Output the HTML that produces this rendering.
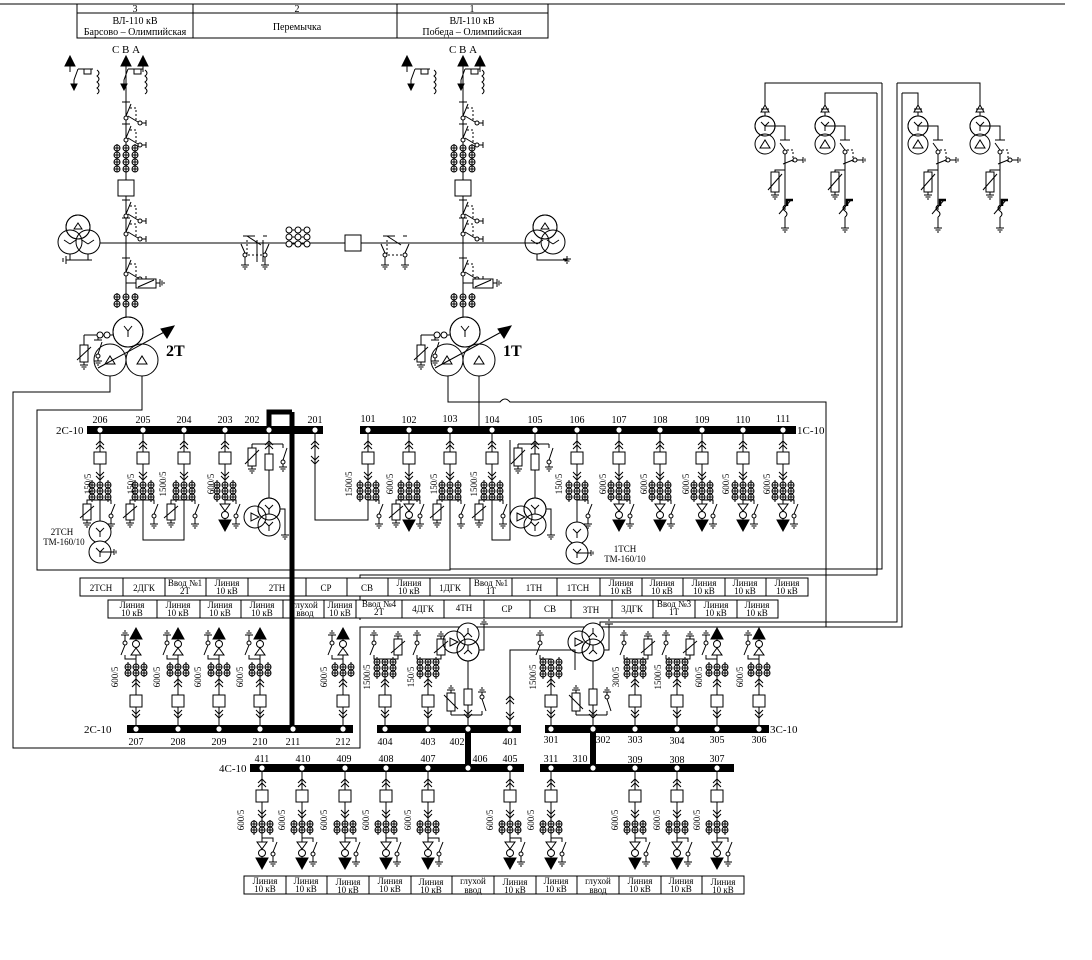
<!DOCTYPE html>
<html><head><meta charset="utf-8">
<style>
html,body{margin:0;padding:0;background:#fff;}
svg{display:block;font-family:"Liberation Serif",serif;}
text{fill:#000;stroke:none;}
.t9{font-size:9px;}
.t10{font-size:10px;}
.t11{font-size:11px;}
</style></head>
<body>
<svg width="1092" height="960" viewBox="0 0 1092 960" xmlns="http://www.w3.org/2000/svg" xmlns:xlink="http://www.w3.org/1999/xlink">
<defs>
<g id="gd" fill="none" stroke="#000"><path d="M0 0V3M-4 3H4M-2.5 5H2.5M-1 7H1"/></g>
<g id="fb" fill="none" stroke="#000">
<path d="M0 0V66M-4 11L0 7L4 11M-4 15L0 11L4 15M-4 38L0 42L4 38M-4 42L0 46L4 42"/>
<rect x="-6" y="18" width="12" height="12" fill="#fff"/>
<path d="M0 66H11V70M15 70L11 80M11 84V87"/>
<circle cx="11" cy="82" r="2" fill="#fff"/>
<use href="#gd" xlink:href="#gd" transform="translate(11,87)"/>
</g>
<g id="ct3" fill="none" stroke="#000">
<path d="M-8 46V68M8 46V68M-11 51H-5M-3 51H3M5 51H11M-11 57H-5M-3 57H3M5 57H11M-11 63H-5M-3 63H3M5 63H11"/>
<circle cx="-8" cy="51" r="3"/><circle cx="0" cy="51" r="3"/><circle cx="8" cy="51" r="3"/>
<circle cx="-8" cy="57" r="3"/><circle cx="0" cy="57" r="3"/><circle cx="8" cy="57" r="3"/>
<circle cx="-8" cy="63" r="3"/><circle cx="0" cy="63" r="3"/><circle cx="8" cy="63" r="3"/>
</g>
<g id="ct2" fill="none" stroke="#000">
<path d="M-8 48V63M8 48V63M-11 52H-5M-3 52H3M5 52H11M-11 58H-5M-3 58H3M5 58H11"/>
<circle cx="-8" cy="52" r="3"/><circle cx="0" cy="52" r="3"/><circle cx="8" cy="52" r="3"/>
<circle cx="-8" cy="58" r="3"/><circle cx="0" cy="58" r="3"/><circle cx="8" cy="58" r="3"/>
</g>
<g id="ft" fill="none" stroke="#000">
<path d="M0 66V86"/>
<path d="M-5 70L5 70L0 77Z" fill="#fff"/>
<circle cx="0" cy="81" r="3.5" fill="#fff"/>
<path d="M-6 86L6 86L0 97Z" fill="#000"/>
</g>
<g id="fa" fill="none" stroke="#000">
<path d="M0 66H-13V70"/>
<rect x="-17" y="70" width="8" height="16" fill="#fff"/>
<path d="M-20 84L-6 72"/>
<use href="#gd" xlink:href="#gd" transform="translate(-13,86)"/>
</g>
<g id="F"><use href="#fb" xlink:href="#fb"/><use href="#ct3" xlink:href="#ct3"/><use href="#ft" xlink:href="#ft"/></g>
<g id="FA"><use href="#fb" xlink:href="#fb"/><use href="#ct3" xlink:href="#ct3"/><use href="#fa" xlink:href="#fa"/></g>
<g id="FN"><use href="#fb" xlink:href="#fb"/><use href="#ct3" xlink:href="#ct3"/></g>
<g id="FTA"><use href="#F" xlink:href="#F"/><use href="#fa" xlink:href="#fa"/></g>
<g id="F2"><use href="#fb" xlink:href="#fb"/><use href="#ct2" xlink:href="#ct2"/><use href="#ft" xlink:href="#ft"/></g>
<g id="FA2"><use href="#fb" xlink:href="#fb"/><use href="#ct3" xlink:href="#ct3"/><use href="#fa" xlink:href="#fa"/></g>
<g id="FN2"><use href="#fb" xlink:href="#fb"/><use href="#ct3" xlink:href="#ct3"/></g>
<g id="TN" fill="none" stroke="#000">
<path d="M-4 11L0 7L4 11M-4 15L0 11L4 15M0 0V20M-17 10H14M-17 10V14M14 10V14M18 14L14 26M0 36V64"/>
<rect x="-21" y="14" width="8" height="18" fill="#fff"/>
<path d="M-24 30L-10 16"/>
<use href="#gd" xlink:href="#gd" transform="translate(-17,32)"/>
<circle cx="14" cy="28" r="2" fill="#fff"/>
<use href="#gd" xlink:href="#gd" transform="translate(14,30)"/>
<rect x="-4" y="20" width="8" height="16" fill="#fff"/>
<circle cx="0" cy="75" r="11" fill="#fff"/><circle cx="0" cy="91" r="11" fill="#fff"/><circle cx="-14" cy="83" r="11"/><circle cx="0" cy="75" r="11"/>
<path d="M-4 71L0 75L4 71M0 75V80M-4 88L0 92L4 88M0 92V97M-18 79L-10 83L-18 87Z M11 75H16V98"/>
<use href="#gd" xlink:href="#gd" transform="translate(16,98)"/>
</g>
<g id="hb" fill="none" stroke="#000">
<path d="M-4 0H4M5 2L0 14M2 14L12 20M16 21H20M20 18V24"/>
<circle cx="0" cy="16" r="2" fill="#fff"/>
<circle cx="14" cy="21" r="2" fill="#fff"/>
<path d="M4 6H10V18" stroke-dasharray="2,2"/>
</g>
<g id="hv" fill="none" stroke="#000">
<path d="M0 58V318"/>
<path d="M-5 66L0 56L5 66Z M-61 66L-56 56L-51 66Z M12 66L17 56L22 66Z" fill="#000"/>
<path d="M-56 66V72M17 66V72"/>
<rect x="-42" y="69" width="7" height="5"/>
<path d="M-48 69H-33M-48 69L-52 80V86M-29 70q4 3 0 6q4 3 0 6q4 3 0 6q4 3 0 6"/>
<path d="M-55 84L-52 90L-49 84Z" fill="#000"/>
<rect x="8" y="69" width="7" height="5"/>
<path d="M2 69H17M2 69L-2 80V86M19 70q4 3 0 6q4 3 0 6q4 3 0 6q4 3 0 6"/>
<path d="M-5 84L-2 90L1 84Z" fill="#000"/>
<use href="#hb" xlink:href="#hb" transform="translate(0,102)"/>
<use href="#hb" xlink:href="#hb" transform="translate(0,124)"/>
<path d="M-9 144V172M9 144V172M-12 148H-6M-3 148H3M6 148H12M-12 155H-6M-3 155H3M6 155H12M-12 162H-6M-3 162H3M6 162H12M-12 169H-6M-3 169H3M6 169H12"/>
<circle cx="-9" cy="148" r="3"/><circle cx="0" cy="148" r="3"/><circle cx="9" cy="148" r="3"/>
<circle cx="-9" cy="155" r="3"/><circle cx="0" cy="155" r="3"/><circle cx="9" cy="155" r="3"/>
<circle cx="-9" cy="162" r="3"/><circle cx="0" cy="162" r="3"/><circle cx="9" cy="162" r="3"/>
<circle cx="-9" cy="169" r="3"/><circle cx="0" cy="169" r="3"/><circle cx="9" cy="169" r="3"/>
<rect x="-8" y="180" width="16" height="16" fill="#fff"/>
<use href="#hb" xlink:href="#hb" transform="translate(0,200)"/>
<use href="#hb" xlink:href="#hb" transform="translate(0,218)"/>
<use href="#hb" xlink:href="#hb" transform="translate(0,258)"/>
<rect x="10" y="279" width="20" height="9" fill="#fff"/>
<path d="M12 287L28 280M0 283H10M30 283H34M34 279V287M36 280.5V285.5M38 282V284"/>
<path d="M-9 293V308M9 293V308M-12 297H-6M-3 297H3M6 297H12M-12 304H-6M-3 304H3M6 304H12"/>
<circle cx="-9" cy="297" r="3"/><circle cx="0" cy="297" r="3"/><circle cx="9" cy="297" r="3"/>
<circle cx="-9" cy="304" r="3"/><circle cx="0" cy="304" r="3"/><circle cx="9" cy="304" r="3"/>
<circle cx="2" cy="332" r="15" fill="#fff"/><circle cx="-16" cy="360" r="16" fill="#fff"/><circle cx="16" cy="360" r="16" fill="#fff"/><circle cx="2" cy="332" r="15"/>
<path d="M-2 326L2 331L6 326M2 331V337M-21 364L-16 356L-11 364ZM11 364L16 356L21 364Z"/>
<path d="M-28 368L42 330"/>
<path d="M48 326L35 329L41 338Z" fill="#000"/>
<path d="M-42 335H-13M-42 335V345M-28 335V340M-32 340H-24M-24 342L-28 354"/>
<circle cx="-26" cy="335" r="3" fill="#fff"/><circle cx="-19" cy="335" r="3" fill="#fff"/>
<rect x="-46" y="345" width="8" height="17" fill="#fff"/>
<path d="M-49 360L-35 347"/>
<use href="#gd" xlink:href="#gd" transform="translate(-42,362)"/>
<circle cx="-28" cy="356" r="2" fill="#fff"/>
<use href="#gd" xlink:href="#gd" transform="translate(-28,358)"/>
</g>
<g id="rt" fill="none" stroke="#000">
<circle cx="0" cy="126" r="10" fill="#fff"/><circle cx="0" cy="144" r="10" fill="#fff"/><circle cx="0" cy="126" r="10"/>
<path d="M-4 122L0 126L4 122M0 126V131M-5 148L0 140L5 148Z"/>
<path d="M-4 112L0 105L4 112Z" fill="#fff"/>
<path d="M-4 109H4M0 112V116M0 126H20V140M15 140H25M20 150L15 143M20 154V210M18 164L28 160M32 160H38M20 170H10V172M14 214L26 200M20 205q-4 3 0 6q4 3 0 6M20 217V225"/>
<path d="M22 206V200H28" stroke-width="2.5"/>
<path d="M22 150H28V162" stroke-dasharray="2,2"/>
<circle cx="20" cy="152" r="2" fill="#fff"/>
<circle cx="30" cy="160" r="2" fill="#fff"/>
<path d="M38 157V163M40 158.5V161.5"/>
<rect x="6" y="172" width="8" height="20" fill="#fff"/>
<path d="M3 190L17 174"/>
<use href="#gd" xlink:href="#gd" transform="translate(10,192)"/>
<use href="#gd" xlink:href="#gd" transform="translate(20,225)"/>
</g>
</defs>
<rect width="1092" height="960" fill="#fff"/>

<!-- header table -->
<g stroke="#000" fill="none">
<line x1="0" y1="4" x2="1065" y2="4"/>
<rect x="77" y="4" width="471" height="34"/>
<line x1="77" y1="13" x2="548" y2="13"/>
<line x1="193" y1="4" x2="193" y2="38"/>
<line x1="397" y1="4" x2="397" y2="38"/>
</g>
<g class="t10" text-anchor="middle">
<text x="135" y="12">3</text><text x="297" y="12">2</text><text x="472" y="12">1</text>
<text x="135" y="24">ВЛ-110 кВ</text><text x="135" y="35">Барсово – Олимпийская</text>
<text x="297" y="30">Перемычка</text>
<text x="472" y="24">ВЛ-110 кВ</text><text x="472" y="35">Победа – Олимпийская</text>
<text x="126" y="53" font-size="11">С В А</text>
<text x="463" y="53" font-size="11">С В А</text>
</g>

<!-- HV sections -->
<use href="#hv" xlink:href="#hv" transform="translate(126,0)"/>
<use href="#hv" xlink:href="#hv" transform="translate(463,0)"/>
<g fill="none" stroke="#000">
<path d="M100 243H540"/>
<circle cx="78" cy="227" r="12" fill="#fff"/><circle cx="70" cy="242" r="12"/><circle cx="88" cy="242" r="12"/><circle cx="78" cy="227" r="12"/>
<path d="M74 229L78 223L82 229ZM64 240L70 244M76 240L70 244M82 240L88 244M94 240L88 244M70 254V260M88 254V260M66 260H92M66 256V264M63 258V262"/>
<circle cx="545" cy="227" r="12" fill="#fff"/><circle cx="537" cy="242" r="12"/><circle cx="553" cy="242" r="12"/><circle cx="545" cy="227" r="12"/>
<path d="M541 229L545 223L549 229ZM531 240L537 244M543 240L537 244M547 240L553 244M559 240L553 244M537 254V260H567V256"/>
<use href="#gd" xlink:href="#gd" transform="translate(567,256)"/>
<path d="M243 236H255M247 236L261 245M263 236H267M257 240V262M263 240V262" />
<path d="M247 240V255H263" stroke-dasharray="2,2"/>
<circle cx="245" cy="255" r="2" fill="#fff"/><circle cx="265" cy="255" r="2" fill="#fff"/>
<path d="M241 244L245 253M269 244L265 253M245 257V262M265 257V262"/>
<use href="#gd" xlink:href="#gd" transform="translate(245,262)"/>
<use href="#gd" xlink:href="#gd" transform="translate(265,262)"/>
<path d="M383 236H395M387 236L401 245M403 236H407"/>
<path d="M387 240V255H403" stroke-dasharray="2,2"/>
<circle cx="385" cy="255" r="2" fill="#fff"/><circle cx="405" cy="255" r="2" fill="#fff"/>
<path d="M381 244L385 253M409 244L405 253M385 257V262M405 257V262"/>
<use href="#gd" xlink:href="#gd" transform="translate(385,262)"/>
<use href="#gd" xlink:href="#gd" transform="translate(405,262)"/>
<path d="M286 230H310M286 237H310M286 244H310"/>
<circle cx="289" cy="230" r="3" fill="#fff"/><circle cx="298" cy="230" r="3" fill="#fff"/><circle cx="307" cy="230" r="3" fill="#fff"/>
<circle cx="289" cy="237" r="3" fill="#fff"/><circle cx="298" cy="237" r="3" fill="#fff"/><circle cx="307" cy="237" r="3" fill="#fff"/>
<circle cx="289" cy="244" r="3" fill="#fff"/><circle cx="298" cy="244" r="3" fill="#fff"/><circle cx="307" cy="244" r="3" fill="#fff"/>
<rect x="345" y="235" width="16" height="16" fill="#fff"/>
</g>
<text x="166" y="356" font-size="16" font-weight="bold">2Т</text>
<text x="503" y="356" font-size="16" font-weight="bold">1Т</text>

<!-- connection wires -->
<g fill="none" stroke="#000">
<path d="M110 376V392H13V748H360V627H826V402H510q-5 -6 -10 0H448V376"/>
<path d="M142 376V410H37V570H450V500"/>
<path d="M479 376V426"/>
<path d="M143 500V540H184V500"/>
<path d="M492 500V540H510V440"/>
<path d="M882 83V569H450M877 93V575H360V620M897 83V622H600V640M902 93V627H826"/>
<path d="M765 105V83H882M825 105V93H877M918 105V93H902M980 105V83H897"/>
<path d="M315 434V520H368V500M315 441L311 445M315 441L319 445M311 449L315 445L319 449M311 456L315 460L319 456M311 460L315 464L319 460"/>
<path d="M510 725V650H575V670M506 716L510 720L514 716M506 712L510 716L514 712M506 700L510 696L514 700M506 704L510 700L514 704"/>
</g>
<use href="#rt" xlink:href="#rt" transform="translate(765,0)"/>
<use href="#rt" xlink:href="#rt" transform="translate(825,0)"/>
<use href="#rt" xlink:href="#rt" transform="translate(918,0)"/>
<use href="#rt" xlink:href="#rt" transform="translate(980,0)"/>

<!-- buses -->
<g fill="#000">
<rect x="87" y="426" width="236" height="8"/><rect x="360" y="426" width="436" height="8"/>
<rect x="127" y="725" width="226" height="8"/><rect x="377" y="725" width="144" height="8"/><rect x="545" y="725" width="224" height="8"/>
<rect x="250" y="764" width="274" height="8"/><rect x="540" y="764" width="194" height="8"/>
</g>
<g stroke="#000" fill="none">
<path d="M468 733V764M593 733V764" stroke-width="6"/>
<path d="M292 729V412M269 430V412H292" stroke-width="5"/>
</g>
<g fill="#fff">
<circle cx="100" cy="430" r="2.6"/><circle cx="143" cy="430" r="2.6"/><circle cx="184" cy="430" r="2.6"/><circle cx="225" cy="430" r="2.6"/><circle cx="269" cy="430" r="2.6"/><circle cx="315" cy="430" r="2.6"/>
<circle cx="368" cy="430" r="2.6"/><circle cx="409" cy="430" r="2.6"/><circle cx="450" cy="430" r="2.6"/><circle cx="492" cy="430" r="2.6"/><circle cx="535" cy="430" r="2.6"/><circle cx="577" cy="430" r="2.6"/><circle cx="619" cy="430" r="2.6"/><circle cx="660" cy="430" r="2.6"/><circle cx="702" cy="430" r="2.6"/><circle cx="743" cy="430" r="2.6"/><circle cx="783" cy="430" r="2.6"/>
<circle cx="136" cy="729" r="2.6"/><circle cx="178" cy="729" r="2.6"/><circle cx="219" cy="729" r="2.6"/><circle cx="260" cy="729" r="2.6"/><circle cx="293" cy="729" r="2.6"/><circle cx="343" cy="729" r="2.6"/>
<circle cx="385" cy="729" r="2.6"/><circle cx="428" cy="729" r="2.6"/><circle cx="468" cy="729" r="2.6"/><circle cx="510" cy="729" r="2.6"/>
<circle cx="551" cy="729" r="2.6"/><circle cx="593" cy="729" r="2.6"/><circle cx="635" cy="729" r="2.6"/><circle cx="677" cy="729" r="2.6"/><circle cx="717" cy="729" r="2.6"/><circle cx="759" cy="729" r="2.6"/>
<circle cx="262" cy="768" r="2.6"/><circle cx="302" cy="768" r="2.6"/><circle cx="345" cy="768" r="2.6"/><circle cx="386" cy="768" r="2.6"/><circle cx="428" cy="768" r="2.6"/><circle cx="468" cy="768" r="2.6"/><circle cx="510" cy="768" r="2.6"/>
<circle cx="551" cy="768" r="2.6"/><circle cx="593" cy="768" r="2.6"/><circle cx="635" cy="768" r="2.6"/><circle cx="677" cy="768" r="2.6"/><circle cx="717" cy="768" r="2.6"/>
</g>

<!-- upper feeders -->
<use href="#FA" xlink:href="#FA" transform="translate(100,434)"/>
<use href="#FA" xlink:href="#FA" transform="translate(143,434)"/>
<use href="#FA" xlink:href="#FA" transform="translate(184,434)"/>
<use href="#F" xlink:href="#F" transform="translate(225,434)"/>
<use href="#TN" xlink:href="#TN" transform="translate(269,434)"/>
<use href="#FN" xlink:href="#FN" transform="translate(368,434)"/>
<use href="#FTA" xlink:href="#FTA" transform="translate(409,434)"/>
<use href="#FA" xlink:href="#FA" transform="translate(450,434)"/>
<use href="#FA" xlink:href="#FA" transform="translate(492,434)"/>
<use href="#TN" xlink:href="#TN" transform="translate(535,434)"/>
<use href="#FN" xlink:href="#FN" transform="translate(577,434)"/>
<use href="#F" xlink:href="#F" transform="translate(619,434)"/>
<use href="#F" xlink:href="#F" transform="translate(660,434)"/>
<use href="#F" xlink:href="#F" transform="translate(702,434)"/>
<use href="#F" xlink:href="#F" transform="translate(743,434)"/>
<use href="#F" xlink:href="#F" transform="translate(783,434)"/>
<g fill="none" stroke="#000">
<path d="M100 500V521"/>
<circle cx="100" cy="532" r="11" fill="#fff"/><circle cx="100" cy="552" r="11" fill="#fff"/>
<path d="M96 528L100 532L104 528M100 532V537M96 548L100 552L104 548M100 552V557M100 552H114"/>
<path d="M114 549V555M116 550.5V553.5"/>
<path d="M577 500V522"/>
<circle cx="577" cy="533" r="11" fill="#fff"/><circle cx="577" cy="553" r="11" fill="#fff"/>
<path d="M573 529L577 533L581 529M577 533V538M573 549L577 553L581 549M577 553V558M577 553H591M591 550V556M593 551.5V554.5"/>
</g>

<!-- lower feeders (upward) -->
<use href="#F2" xlink:href="#F2" transform="translate(136,725) scale(-1,-1)"/>
<use href="#F2" xlink:href="#F2" transform="translate(178,725) scale(-1,-1)"/>
<use href="#F2" xlink:href="#F2" transform="translate(219,725) scale(-1,-1)"/>
<use href="#F2" xlink:href="#F2" transform="translate(260,725) scale(-1,-1)"/>
<use href="#F2" xlink:href="#F2" transform="translate(343,725) scale(-1,-1)"/>
<use href="#FA2" xlink:href="#FA2" transform="translate(385,725) scale(-1,-1)"/>
<use href="#FA2" xlink:href="#FA2" transform="translate(428,725) scale(-1,-1)"/>
<use href="#TN" xlink:href="#TN" transform="translate(468,725) scale(1,-1)"/>
<use href="#FN2" xlink:href="#FN2" transform="translate(551,725) scale(-1,-1)"/>
<use href="#TN" xlink:href="#TN" transform="translate(593,725) scale(1,-1)"/>
<use href="#FA2" xlink:href="#FA2" transform="translate(635,725) scale(-1,-1)"/>
<use href="#FA2" xlink:href="#FA2" transform="translate(677,725) scale(-1,-1)"/>
<use href="#F2" xlink:href="#F2" transform="translate(717,725) scale(-1,-1)"/>
<use href="#F2" xlink:href="#F2" transform="translate(759,725) scale(-1,-1)"/>

<!-- 4C / 3C downward -->
<use href="#F2" xlink:href="#F2" transform="translate(262,772)"/>
<use href="#F2" xlink:href="#F2" transform="translate(302,772)"/>
<use href="#F2" xlink:href="#F2" transform="translate(345,772)"/>
<use href="#F2" xlink:href="#F2" transform="translate(386,772)"/>
<use href="#F2" xlink:href="#F2" transform="translate(428,772)"/>
<use href="#F2" xlink:href="#F2" transform="translate(510,772)"/>
<use href="#F2" xlink:href="#F2" transform="translate(551,772)"/>
<use href="#F2" xlink:href="#F2" transform="translate(635,772)"/>
<use href="#F2" xlink:href="#F2" transform="translate(677,772)"/>
<use href="#F2" xlink:href="#F2" transform="translate(717,772)"/>

<!-- bus labels -->
<g class="t11">
<text x="56" y="434">2С-10</text>
<text x="797" y="434">1С-10</text>
<text x="84" y="733">2С-10</text>
<text x="770" y="733">3С-10</text>
<text x="219" y="772">4С-10</text>
</g>
<g class="t10" text-anchor="middle">
<text x="100" y="423">206</text><text x="143" y="423">205</text><text x="184" y="423">204</text><text x="225" y="423">203</text><text x="252" y="423">202</text><text x="315" y="423">201</text>
<text x="368" y="422">101</text><text x="409" y="423">102</text><text x="450" y="422">103</text><text x="492" y="423">104</text><text x="535" y="423">105</text><text x="577" y="423">106</text><text x="619" y="423">107</text><text x="660" y="423">108</text><text x="702" y="423">109</text><text x="743" y="423">110</text><text x="783" y="422">111</text>
<text x="136" y="745">207</text><text x="178" y="745">208</text><text x="219" y="745">209</text><text x="260" y="745">210</text><text x="293" y="745">211</text><text x="343" y="745">212</text>
<text x="385" y="745">404</text><text x="428" y="745">403</text><text x="457" y="745">402</text><text x="510" y="745">401</text>
<text x="551" y="743">301</text><text x="603" y="743">302</text><text x="635" y="743">303</text><text x="677" y="744">304</text><text x="717" y="743">305</text><text x="759" y="743">306</text>
<text x="262" y="762">411</text><text x="303" y="762">410</text><text x="344" y="762">409</text><text x="386" y="762">408</text><text x="428" y="762">407</text><text x="480" y="762">406</text><text x="510" y="762">405</text>
<text x="551" y="762">311</text><text x="580" y="762">310</text><text x="635" y="763">309</text><text x="677" y="763">308</text><text x="717" y="762">307</text>
</g>
<g class="t9" text-anchor="middle">
<text x="62" y="535">2ТСН</text><text x="64" y="545">ТМ-160/10</text>
<text x="625" y="552">1ТСН</text><text x="625" y="562">ТМ-160/10</text>
</g>

<!-- CT ratio labels -->
<g class="t9" text-anchor="middle">
<text transform="translate(91,484) rotate(-90)">150/5</text>
<text transform="translate(134,484) rotate(-90)">150/5</text>
<text transform="translate(166,484) rotate(-90)">1500/5</text>
<text transform="translate(214,484) rotate(-90)">600/5</text>
<text transform="translate(352,484) rotate(-90)">1500/5</text>
<text transform="translate(393,484) rotate(-90)">600/5</text>
<text transform="translate(437,484) rotate(-90)">150/5</text>
<text transform="translate(477,484) rotate(-90)">1500/5</text>
<text transform="translate(562,484) rotate(-90)">150/5</text>
<text transform="translate(606,484) rotate(-90)">600/5</text>
<text transform="translate(647,484) rotate(-90)">600/5</text>
<text transform="translate(689,484) rotate(-90)">600/5</text>
<text transform="translate(729,484) rotate(-90)">600/5</text>
<text transform="translate(770,484) rotate(-90)">600/5</text>
<text transform="translate(118,677) rotate(-90)">600/5</text>
<text transform="translate(160,677) rotate(-90)">600/5</text>
<text transform="translate(201,677) rotate(-90)">600/5</text>
<text transform="translate(243,677) rotate(-90)">600/5</text>
<text transform="translate(327,677) rotate(-90)">600/5</text>
<text transform="translate(370,677) rotate(-90)">1500/5</text>
<text transform="translate(414,677) rotate(-90)">150/5</text>
<text transform="translate(536,677) rotate(-90)">1500/5</text>
<text transform="translate(619,677) rotate(-90)">300/5</text>
<text transform="translate(661,677) rotate(-90)">1500/5</text>
<text transform="translate(702,677) rotate(-90)">600/5</text>
<text transform="translate(743,677) rotate(-90)">600/5</text>
<text transform="translate(244,820) rotate(-90)">600/5</text>
<text transform="translate(285,820) rotate(-90)">600/5</text>
<text transform="translate(327,820) rotate(-90)">600/5</text>
<text transform="translate(369,820) rotate(-90)">600/5</text>
<text transform="translate(411,820) rotate(-90)">600/5</text>
<text transform="translate(493,820) rotate(-90)">600/5</text>
<text transform="translate(534,820) rotate(-90)">600/5</text>
<text transform="translate(618,820) rotate(-90)">600/5</text>
<text transform="translate(660,820) rotate(-90)">600/5</text>
<text transform="translate(700,820) rotate(-90)">600/5</text>
</g>

<!-- tables -->
<g stroke="#000" fill="#fff">
<rect x="80" y="578" width="728" height="18"/>
<rect x="108" y="600" width="670" height="18"/>
<rect x="244" y="876" width="500" height="18"/>
</g>
<g stroke="#000" fill="none">
<path d="M123 578V596M165 578V596M206 578V596M248 578V596M306 578V596M347 578V596M388 578V596M430 578V596M470 578V596M512 578V596M557 578V596M600 578V596M642 578V596M683 578V596M725 578V596M766 578V596"/>
<path d="M157 600V618M200 600V618M241 600V618M283 600V618M324 600V618M356 600V618M402 600V618M444 600V618M484 600V618M530 600V618M571 600V618M612 600V618M653 600V618M695 600V618M737 600V618"/>
<path d="M286 876V894M327 876V894M369 876V894M411 876V894M452 876V894M494 876V894M536 876V894M577 876V894M619 876V894M661 876V894M702 876V894"/>
<path d="M292 578V620" stroke-width="5"/>
</g>
<g class="t9" text-anchor="middle">
<text x="101" y="591">2ТСН</text><text x="144" y="591">2ДГК</text>
<text x="185" y="586">Ввод №1</text><text x="185" y="594">2Т</text>
<text x="227" y="586">Линия</text><text x="227" y="594">10 кВ</text>
<text x="277" y="591">2ТН</text><text x="326" y="591">СР</text><text x="367" y="591">СВ</text>
<text x="409" y="586">Линия</text><text x="409" y="594">10 кВ</text>
<text x="450" y="591">1ДГК</text>
<text x="491" y="586">Ввод №1</text><text x="491" y="594">1Т</text>
<text x="534" y="591">1ТН</text><text x="578" y="591">1ТСН</text>
<text x="621" y="586">Линия</text><text x="621" y="594">10 кВ</text>
<text x="662" y="586">Линия</text><text x="662" y="594">10 кВ</text>
<text x="704" y="586">Линия</text><text x="704" y="594">10 кВ</text>
<text x="745" y="586">Линия</text><text x="745" y="594">10 кВ</text>
<text x="787" y="586">Линия</text><text x="787" y="594">10 кВ</text>
<text x="132" y="608">Линия</text><text x="132" y="616">10 кВ</text>
<text x="178" y="608">Линия</text><text x="178" y="616">10 кВ</text>
<text x="220" y="608">Линия</text><text x="220" y="616">10 кВ</text>
<text x="262" y="608">Линия</text><text x="262" y="616">10 кВ</text>
<text x="305" y="608">глухой</text><text x="305" y="616">ввод</text>
<text x="340" y="608">Линия</text><text x="340" y="616">10 кВ</text>
<text x="379" y="607">Ввод №4</text><text x="379" y="615">2Т</text>
<text x="423" y="612">4ДГК</text><text x="464" y="611">4ТН</text>
<text x="507" y="612">СР</text><text x="550" y="612">СВ</text><text x="591" y="613">3ТН</text><text x="632" y="612">3ДГК</text>
<text x="674" y="607">Ввод №3</text><text x="674" y="615">1Т</text>
<text x="716" y="608">Линия</text><text x="716" y="616">10 кВ</text>
<text x="757" y="608">Линия</text><text x="757" y="616">10 кВ</text>
<text x="265" y="884">Линия</text><text x="265" y="892">10 кВ</text>
<text x="306" y="884">Линия</text><text x="306" y="892">10 кВ</text>
<text x="348" y="885">Линия</text><text x="348" y="893">10 кВ</text>
<text x="390" y="884">Линия</text><text x="390" y="892">10 кВ</text>
<text x="431" y="885">Линия</text><text x="431" y="893">10 кВ</text>
<text x="473" y="884">глухой</text><text x="473" y="893">ввод</text>
<text x="515" y="885">Линия</text><text x="515" y="893">10 кВ</text>
<text x="556" y="884">Линия</text><text x="556" y="892">10 кВ</text>
<text x="598" y="884">глухой</text><text x="598" y="893">ввод</text>
<text x="640" y="884">Линия</text><text x="640" y="892">10 кВ</text>
<text x="681" y="884">Линия</text><text x="681" y="892">10 кВ</text>
<text x="723" y="885">Линия</text><text x="723" y="893">10 кВ</text>
</g>
</svg>
</body></html>
